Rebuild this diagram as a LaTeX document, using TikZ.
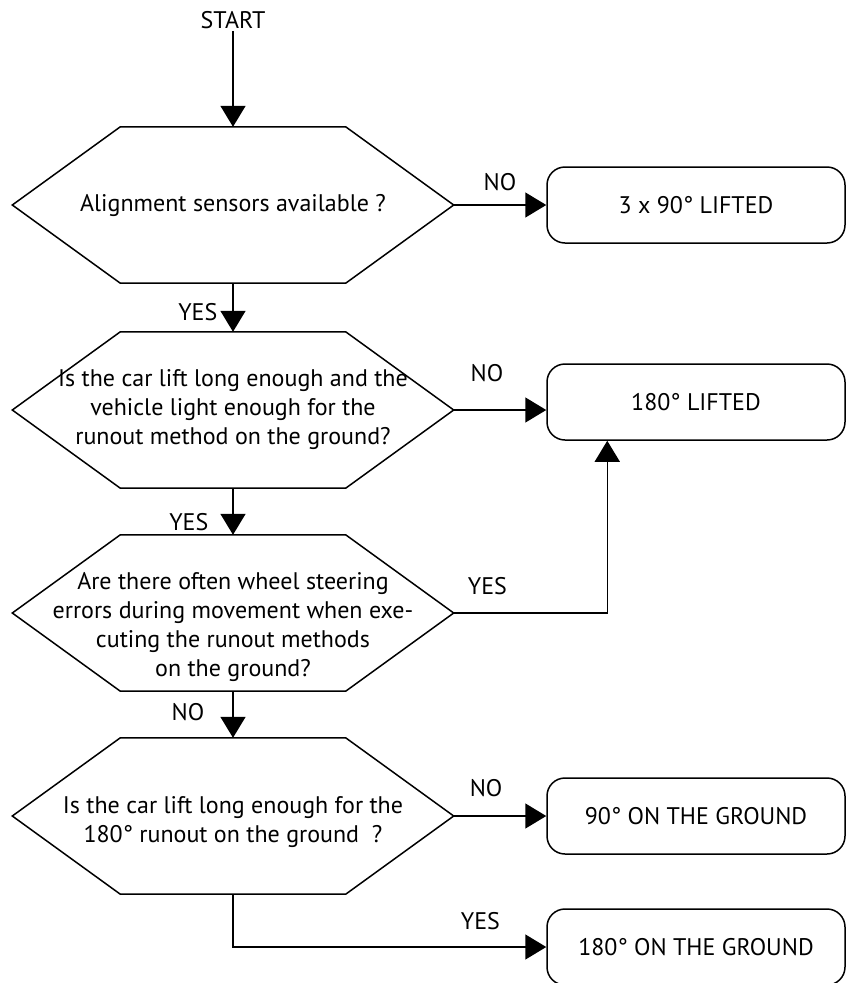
\documentclass[tikz,border=0pt]{standalone}
\usepackage{fontspec}
\setmainfont{PT Sans}
\usetikzlibrary{arrows.meta}

\tikzset{
    question/.style={minimum width=441pt, minimum height=156pt, align=center, inner sep=0pt},
    answer/.style={draw, rounded corners=18pt, minimum width=298pt, minimum height=76pt, line width=1.5pt},
    flow/.style={line width=1.5pt, -{Triangle[length=21pt,width=25pt]}},
    tag/.style={inner sep=2pt}
}

\begin{document}
\begin{tikzpicture}[x=1pt, y=-1pt, font=\fontsize{24}{29}\selectfont]
        \useasboundingbox (0,0) rectangle (846,983);

        \node[tag] (start) at (233,20) {START};

        \node[question] (q1) at (233,205) {Alignment sensors available ?};
        \node[question] (q2) at (233,410) {Is the car lift long enough and the\\vehicle light enough for the\\runout method on the ground?};
        \node[question] (q3) at (233,613) {\rule{0pt}{45pt}Are there often wheel steering\\errors during movement when exe-\\cuting the runout methods\\on the ground?};
        \node[question] (q4) at (233,816) {\rule{0pt}{29pt}Is the car lift long enough for the\\180° runout on the ground~~?};

        % hexagon outlines
        \foreach \q in {q1,q2,q3,q4}
            \draw[line width=1.5pt] (\q.west) -- ([xshift=108pt]\q.north west) -- ([xshift=-108pt]\q.north east)
                -- (\q.east) -- ([xshift=-108pt]\q.south east) -- ([xshift=108pt]\q.south west) -- cycle;

        \node[answer] (a1) at (696,205) {3 x 90° LIFTED};
        \node[answer] (a2) at (696,402) {180° LIFTED};
        \node[answer] (a3) at (696,816) {90° ON THE GROUND};
        \node[answer] (a4) at (696,947) {180° ON THE GROUND};

        \draw[flow] (start) -- (q1.north);
        \draw[flow] (q1.east) -- node[tag, above=11pt] {NO} (a1.west);
        \draw[flow] (q1.south) -- node[tag, pos=0.59, left=13pt] {YES} (q2.north);
        \draw[flow] (q2.east) -- node[tag, pos=0.36, above=25pt] {NO} (q2.east -| a2.west);
        \draw[flow] (q2.south) -- node[tag, pos=0.73, left=22pt] {YES} (q3.north);
        \draw[flow] (q3.east) -| node[tag, pos=0.11, above=15pt] {YES} ([xshift=61pt]a2.south west);
        \draw[flow] (q3.south) -- node[tag, pos=0.44, left=26pt] {NO} (q4.north);
        \draw[flow] (q4.east) -- node[tag, pos=0.35, above=16pt] {NO} (a3.west);
        \draw[flow] (q4.south) |- node[tag, pos=0.895, above=14pt] {YES} (a4.west);
\end{tikzpicture}
\end{document}
